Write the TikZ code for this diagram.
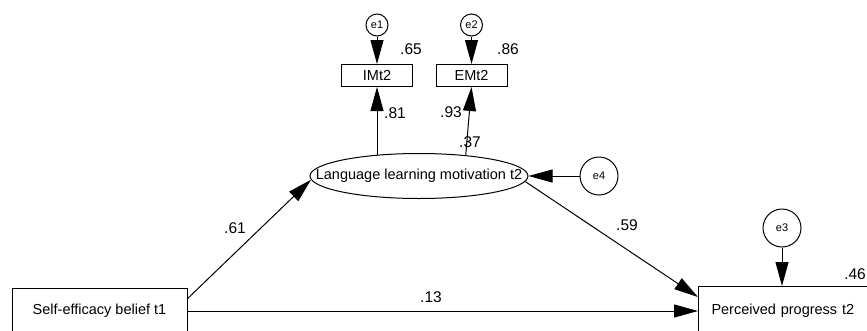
\documentclass[tikz,border=0pt]{standalone}
\usepackage{fontspec}
\setmainfont{Liberation Sans}
\usetikzlibrary{shapes.geometric,arrows.meta,calc}
\tikzset{
  arr/.style={line width=1pt,-{Triangle[length=24pt,width=13pt]}},
  obs/.style={draw,line width=1pt,rectangle,inner sep=0pt,font=\fontsize{14.5}{16}\selectfont},
  lat/.style={draw,line width=1pt,ellipse,inner xsep=-27pt,inner ysep=0pt,font=\fontsize{14.5}{16}\selectfont},
  err/.style={draw,line width=1pt,circle,inner sep=0pt,font=\fontsize{11}{12}\selectfont},
  coef/.style={inner sep=0pt,font=\fontsize{15.5}{17}\selectfont}
}
\begin{document}
\begin{tikzpicture}[x=1pt,y=-1pt]
\useasboundingbox (0,0) rectangle (867,330);
\clip (0,0) rectangle (867,330);
% error terms
\node[err,minimum size=22pt] (e1) at (377,25) {e1};
\node[err,minimum size=22pt] (e2) at (471.5,25) {e2};
\node[err,minimum size=38pt] (e4) at (599,176) {e4};
\node[err,minimum size=38pt] (e3) at (782,228) {e3};
% indicators
\node[obs,minimum width=71pt,minimum height=22pt] (IM) at (377,75.5) {IMt2};
\node[obs,minimum width=71pt,minimum height=22pt] (EM) at (471.5,75.5) {EMt2};
% latent
\node[lat,minimum width=218pt,minimum height=45pt] (LLM) at (419,176) {Language learning motivation t2};
% observed
\node[obs,minimum width=175pt,minimum height=46pt] (SE) at (99.5,311) {Self-efficacy belief t1};
\node[obs,anchor=north west,minimum height=48pt,text width=164pt,inner xsep=13pt,align=left] (PP) at (698,286) {Perceived progress t2};
% paths
\draw[arr] (e1) -- (IM);
\draw[arr] (e2) -- (EM);
\draw[arr] (IM.south |- LLM.153) -- (IM.south);
\draw[arr] (LLM.24) -- (EM.south);
\draw[arr] (e4) -- (LLM);
\draw[arr] (SE.8.5) -- (LLM.182);
\draw[arr] (LLM.-3) -- ($(PP.north west)+(0,11)$);
\draw[arr] (SE.east) -- (SE.east -| PP.west);
\draw[arr] (e3) -- (e3 |- PP.north);
% coefficients
\node[coef] (c65) at (411,49) {.65};
\node[coef] (c86) at (508,49) {.86};
\node[coef] (c81) at (395,113) {.81};
\node[coef] (c93) at (451,112) {.93};
\node[coef] (c37) at (470,142) {.37};
\node[coef] (c61) at (235,228) {.61};
\node[coef] (c59) at (627,225) {.59};
\node[coef] (c13) at (431,297) {.13};
\node[coef,anchor=east] (c46) at (866,274) {.46};
\end{tikzpicture}
\end{document}
